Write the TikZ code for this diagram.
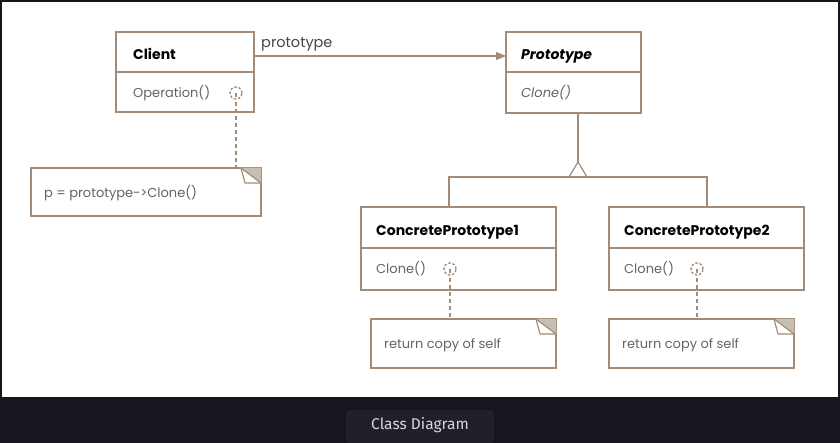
\documentclass[tikz,border=0pt]{standalone}
\usepackage{fontspec}
\setmainfont{Poppins}
\newfontfamily\capfont{Fira Sans}
\usetikzlibrary{arrows.meta}
\definecolor{edge}{RGB}{160,140,120}
\definecolor{foldc}{RGB}{200,190,180}
\definecolor{txtgray}{RGB}{100,100,100}
\definecolor{darkbg}{RGB}{21,22,30}
\definecolor{btnbg}{RGB}{32,33,40}
\definecolor{captxt}{RGB}{215,215,220}
\tikzset{
  box/.style={draw=edge, line width=1.2pt, fill=white},
  ttl/.style={anchor=base west, inner sep=0pt, font=\fontsize{14}{16}\selectfont\bfseries, text=black},
  opn/.style={anchor=base west, inner sep=0pt, font=\fontsize{13}{15}\selectfont, text=txtgray},
  conn/.style={draw=edge, line width=1.2pt},
  dashc/.style={draw=edge, line width=1.4pt, dash pattern=on 4pt off 3pt},
  icon/.style={draw=edge, line width=1.3pt, dash pattern=on 2.5pt off 1.8pt, circle, minimum size=12pt, inner sep=0pt},
}
\begin{document}
\begin{tikzpicture}[x=1pt,y=-1pt]
\useasboundingbox (0,0) rectangle (840,443);
\fill[darkbg] (0,0) rectangle (840,443);
\fill[white] (2,2) rectangle (838,397);
\fill[btnbg, rounded corners=3pt] (346,410) rectangle (494,443);
\node[font=\capfont\fontsize{15.5}{18}\selectfont, text=captxt] (cap) at (420,425) {Class Diagram};

% Client
\draw[box] (116,32) rectangle (254,112);
\draw[conn] (116,72) -- (254,72);
\node[ttl] (clientT) at (133,59.5) {Client};
\node[opn] (clientO) at (133,97.5) {Operation()};
\coordinate (clientR) at (254,56);

% Prototype
\draw[box] (506,32) rectangle (641,113);
\draw[conn] (506,72) -- (641,72);
\node[ttl, font=\fontsize{14}{16}\selectfont\bfseries\itshape] (protoT) at (521,59.5) {Prototype};
\node[opn, font=\fontsize{13}{15}\selectfont\itshape] (protoO) at (521,97.5) {Clone()};
\coordinate (protoL) at (506,56);
\coordinate (protoB) at (578,113);

\draw[conn, -{Triangle[length=10pt,width=8pt]}] (clientR) -- (protoL);
\node[anchor=base west, inner sep=0pt, font=\fontsize{14.5}{16}\selectfont, text=txtgray!70!black] (lbl) at (261,48) {prototype};

% inheritance
\coordinate (tri) at (578,162);
\coordinate (trL) at (569,177);
\coordinate (trR) at (587,177);
\draw[conn] (protoB) -- (tri);
\draw[conn, line join=miter] (trL) -- (tri) -- (trR);
\coordinate (h1) at (449,177);
\coordinate (h2) at (707,177);
\coordinate (c1T) at (449,207);
\coordinate (c2T) at (707,207);
\draw[conn] (c1T) -- (h1) -- (h2) -- (c2T);

% CP1
\draw[box] (361,207) rectangle (556,290);
\draw[conn] (361,248) -- (556,248);
\node[ttl] (cp1T) at (376,236) {ConcretePrototype1};
\node[opn] (cp1O) at (376,273.5) {Clone()};

% CP2
\draw[box] (609,207) rectangle (804,290);
\draw[conn] (609,248) -- (804,248);
\node[ttl] (cp2T) at (624,236) {ConcretePrototype2};
\node[opn] (cp2O) at (624,273.5) {Clone()};

% notes
\newcommand\notebox[5]{% x1 y1 x2 y2 name
  \draw[box] (#1,#2) rectangle (#3,#4);
  \fill[foldc] (#3-20,#2) -- (#3,#2) -- (#3,#2+15) -- cycle;
  \draw[draw=edge, line width=1.2pt, fill=white, line join=round] (#3-20,#2) -- (#3-16,#2+15) -- (#3,#2+15);
  \draw[draw=edge, line width=1.2pt] (#3-20,#2) -- (#3,#2+15);
  \coordinate (#5) at (#1,#2);
}
\notebox{31}{168}{261}{216}{n1}
\node[opn] (n1T) at (44,197.5) {p = prototype->Clone()};
\notebox{371}{319}{556}{368}{n2}
\node[opn] (n2T) at (384,348.5) {return copy of self};
\notebox{609}{319}{794}{368}{n3}
\node[opn] (n3T) at (622,348.5) {return copy of self};

% icons and dashed links
\node[icon] (i1) at (236,93) {};
\node[icon] (i2) at (450,269) {};
\node[icon] (i3) at (697,269) {};
\coordinate (n1top) at (236,168);
\coordinate (n2top) at (450,319);
\coordinate (n3top) at (697,319);
\draw[draw=edge, line width=1.3pt] (i1.center) -- ++(0,4);
\draw[draw=edge, line width=1.3pt] (i2.center) -- ++(0,4);
\draw[draw=edge, line width=1.3pt] (i3.center) -- ++(0,4);
\draw[dashc] ([yshift=-2pt]i1.south) -- (n1top);
\draw[dashc] ([yshift=-2pt]i2.south) -- (n2top);
\draw[dashc] ([yshift=-2pt]i3.south) -- (n3top);
\end{tikzpicture}
\end{document}
